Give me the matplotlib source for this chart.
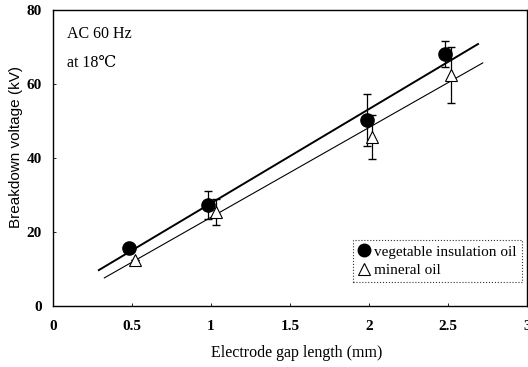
import matplotlib
matplotlib.use("Agg")
import matplotlib.pyplot as plt
from matplotlib.lines import Line2D

plt.rcParams['font.family'] = ['Liberation Serif', 'DejaVu Serif']

# Data
veg_x = [0.48, 0.98, 1.99, 2.48]
veg_y = [15.7, 27.3, 50.3, 68.0]
veg_err = [0.0, 3.8, 7.0, 3.5]

min_x = [0.52, 1.03, 2.02, 2.52]
min_y = [12.4, 25.4, 45.7, 62.4]
min_err = [0.0, 3.5, 6.0, 7.5]

veg_fit_x = [0.29, 2.69]
veg_fit_y = [9.7, 70.8]
min_fit_x = [0.325, 2.72]
min_fit_y = [7.6, 65.7]

x_ticks = [0, 0.5, 1, 1.5, 2, 2.5, 3]
x_ticklabels = ['0', '0.5', '1', '1.5', '2', '2.5', '3']
y_ticks = [0, 20, 40, 60, 80]

fig = plt.figure(figsize=(5.28, 3.67), dpi=100)
ax = fig.add_axes([53/528, 1 - 306/367, (527-53)/528, (306-10)/367])

ax.plot(veg_fit_x, veg_fit_y, color='black', lw=1.4, zorder=2)
ax.plot(min_fit_x, min_fit_y, color='black', lw=0.8, zorder=2)

ax.errorbar(veg_x, veg_y, yerr=veg_err, fmt='none', ecolor='black',
            elinewidth=0.9, capsize=3, capthick=1.0, zorder=3)
ax.errorbar(min_x, min_y, yerr=min_err, fmt='none', ecolor='black',
            elinewidth=0.9, capsize=3, capthick=1.0, zorder=3)
ax.plot(min_x, min_y, linestyle='none', marker='^', markersize=9,
        markerfacecolor='white', markeredgecolor='black', markeredgewidth=0.8, zorder=4)
ax.plot(veg_x, veg_y, linestyle='none', marker='o', markersize=9.5,
        markerfacecolor='black', markeredgecolor='black', zorder=5)

ax.set_xlim(0, 3)
ax.set_ylim(0, 80)
ax.set_xticks(x_ticks)
ax.set_xticklabels(x_ticklabels)
ax.set_yticks(y_ticks)
ax.tick_params(direction='in', length=2, width=0.6, labelsize=11, pad=10)
ax.tick_params(axis='y', pad=8)
for lbl in ax.get_xticklabels() + ax.get_yticklabels():
    lbl.set_fontweight('bold')
for s in ax.spines.values():
    s.set_linewidth(1.0)

fig.text(297/528, 1 - 353/367, 'Electrode gap length (mm)', fontsize=11.5,
         ha='center', va='center')
fig.text(16/528, 1 - 147/367, 'Breakdown voltage (kV)', fontsize=11,
         family=['Liberation Sans', 'DejaVu Sans'], rotation=90,
         ha='center', va='center')

ax.text(0.03, 0.92, 'AC 60 Hz', transform=ax.transAxes, fontsize=11.5, va='center')
ax.text(0.03, 0.822, 'at 18\u2103', transform=ax.transAxes, fontsize=11.5, va='center')

handles = [
    Line2D([], [], linestyle='none', marker='o', markersize=9, markerfacecolor='black', markeredgecolor='black'),
    Line2D([], [], linestyle='none', marker='^', markersize=9, markerfacecolor='white', markeredgecolor='black', markeredgewidth=0.8),
]
leg = ax.legend(handles, ['vegetable insulation oil', 'mineral oil'],
                loc='lower right', bbox_to_anchor=(0.99, 0.08), fontsize=11,
                frameon=True, fancybox=False, handlelength=0.7, handletextpad=0.35,
                borderpad=0.35, labelspacing=0.3, borderaxespad=0)
leg.get_frame().set_edgecolor('black')
leg.get_frame().set_linestyle(':')
leg.get_frame().set_linewidth(0.8)

fig.savefig('out.png', dpi=100)
